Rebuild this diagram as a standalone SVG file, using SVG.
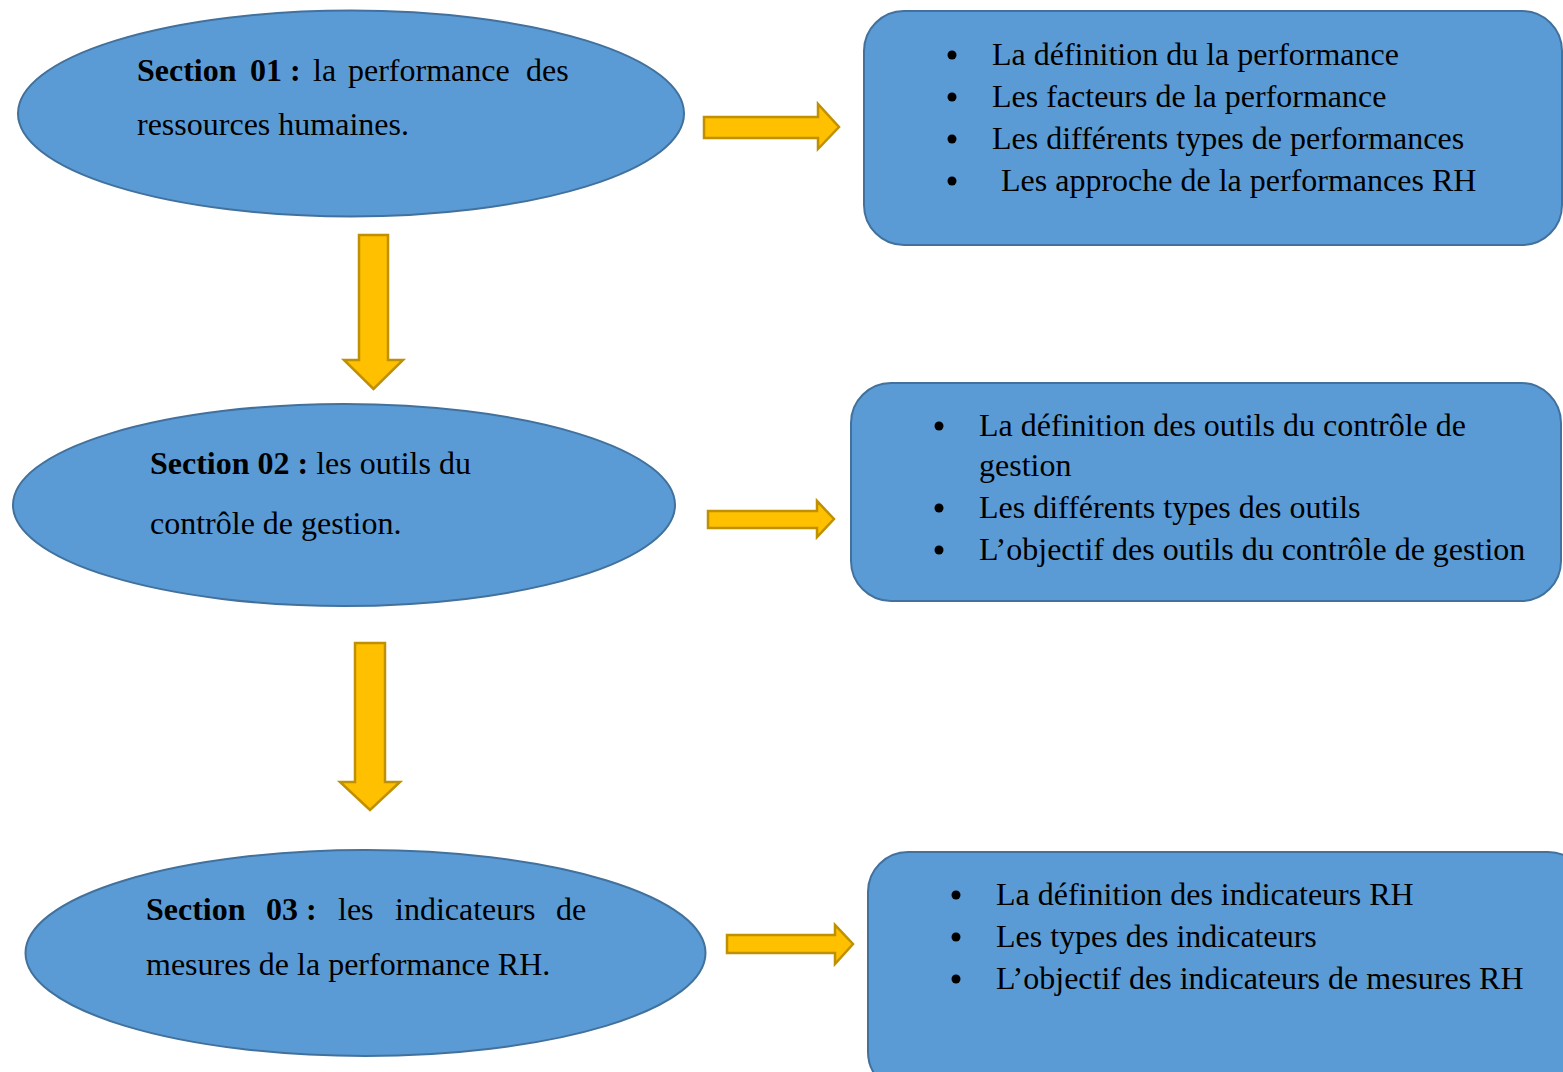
<svg xmlns="http://www.w3.org/2000/svg" width="1563" height="1072" viewBox="0 0 1563 1072">
  <style>
    .shape { fill: #5B9BD5; stroke: #41719C; stroke-width: 2; }
    .arrow { fill: #FFC000; stroke: #BF9000; stroke-width: 2.5; stroke-linejoin: miter; }
    text { font-family: "Liberation Serif", "Times New Roman", serif; font-size: 32px; fill: #000; }
    .b { font-weight: bold; }
    .dot { fill: #000; }
  </style>
  <rect width="1563" height="1072" fill="#FFFFFF"/>

  <!-- connectors: block arrows -->
  <g id="connectors">
    <polygon class="arrow" points="704,117 818,117 818,104 839,127 818,149 818,138 704,138"/>
    <polygon class="arrow" points="708,511 817,511 817,501 834,519 817,537 817,528 708,528"/>
    <polygon class="arrow" points="727,935 835,935 835,925 853,944 835,964 835,953 727,953"/>
    <polygon class="arrow" points="359,235 388,235 388,360 403,360 373.5,389 344,360 359,360"/>
    <polygon class="arrow" points="355,643 385,643 385,782 400,782 370,810 340,782 355,782"/>
  </g>

  <!-- Section 01 -->
  <g id="section01">
    <ellipse class="shape" cx="351" cy="113.5" rx="333" ry="103"/>
    <text y="81"><tspan x="137" class="b">Section</tspan><tspan x="250" class="b">01 :</tspan><tspan x="313">la</tspan><tspan x="348">performance</tspan><tspan x="526">des</tspan></text>
    <text x="137" y="135">ressources humaines.</text>
  </g>

  <!-- Section 02 -->
  <g id="section02">
    <ellipse class="shape" cx="344" cy="505" rx="331" ry="101"/>
    <text x="150" y="474"><tspan class="b">Section 02 :</tspan> les outils du</text>
    <text x="150" y="534">contrôle de gestion.</text>
  </g>

  <!-- Section 03 -->
  <g id="section03">
    <ellipse class="shape" cx="365.5" cy="953" rx="340" ry="103"/>
    <text y="920"><tspan x="146" class="b">Section</tspan><tspan x="266" class="b">03 :</tspan><tspan x="338">les</tspan><tspan x="395">indicateurs</tspan><tspan x="556">de</tspan></text>
    <text x="146" y="975">mesures de la performance RH.</text>
  </g>

  <!-- Contents of section 01 -->
  <g id="content01">
    <rect class="shape" x="864" y="11" width="698" height="234" rx="40" ry="40"/>
    <circle class="dot" cx="952" cy="55" r="4.5"/>
    <circle class="dot" cx="952" cy="97" r="4.5"/>
    <circle class="dot" cx="952" cy="139" r="4.5"/>
    <circle class="dot" cx="952" cy="181" r="4.5"/>
    <text x="992" y="65">La définition du la performance</text>
    <text x="992" y="107">Les facteurs de la performance</text>
    <text x="992" y="149">Les différents types de performances</text>
    <text x="1001" y="191">Les approche de la performances RH</text>
  </g>

  <!-- Contents of section 02 -->
  <g id="content02">
    <rect class="shape" x="851" y="383" width="710" height="218" rx="40" ry="40"/>
    <circle class="dot" cx="939" cy="426" r="4.5"/>
    <circle class="dot" cx="939" cy="508" r="4.5"/>
    <circle class="dot" cx="939" cy="550" r="4.5"/>
    <text x="979" y="436">La définition des outils du contrôle de</text>
    <text x="979" y="476">gestion</text>
    <text x="979" y="518">Les différents types des outils</text>
    <text x="979" y="560">L’objectif des outils du contrôle de gestion</text>
  </g>

  <!-- Contents of section 03 -->
  <g id="content03">
    <rect class="shape" x="868" y="852" width="720" height="240" rx="40" ry="40"/>
    <circle class="dot" cx="956" cy="895" r="4.5"/>
    <circle class="dot" cx="956" cy="937" r="4.5"/>
    <circle class="dot" cx="956" cy="979" r="4.5"/>
    <text x="996" y="905">La définition des indicateurs RH</text>
    <text x="996" y="947">Les types des indicateurs</text>
    <text x="996" y="989">L’objectif des indicateurs de mesures RH</text>
  </g>
</svg>
